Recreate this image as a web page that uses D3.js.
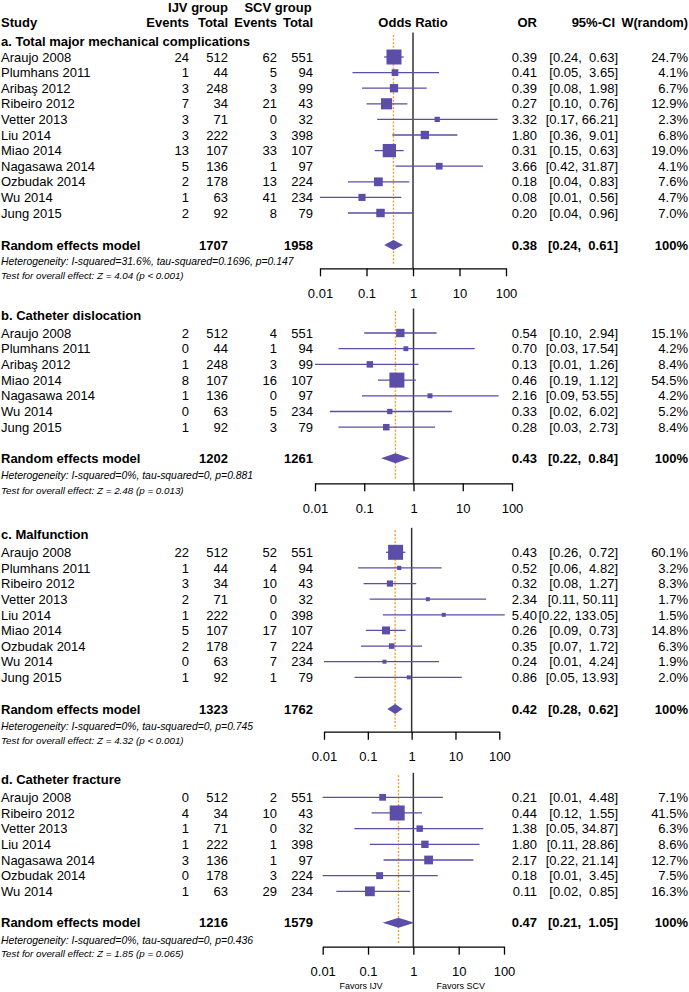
<!DOCTYPE html>
<html><head><meta charset="utf-8">
<script src="https://cdn.jsdelivr.net/npm/d3@7"></script>
<style>
body{margin:0;background:#fff}
svg text{font-family:"Liberation Sans",Arial,Helvetica,sans-serif;fill:#000;white-space:pre}
</style>
</head><body><svg id="chart" width="689" height="992"></svg>
<script>
// ---------------- DATA ----------------
const tickValues = [0.01, 0.1, 1, 10, 100];
const tickLabels = ["0.01", "0.1", "1", "10", "100"];

const panelTitles = [
  "a. Total major mechanical complications",
  "b. Catheter dislocation",
  "c. Malfunction",
  "d. Catheter fracture"
];

// [study, IJV events, IJV total, SCV events, SCV total, OR, lower, upper, weight %]
const studiesA = [
  ["Araujo 2008", 24, 512, 62, 551, 0.39, 0.24, 0.63, 24.7],
  ["Plumhans 2011", 1, 44, 5, 94, 0.41, 0.05, 3.65, 4.1],
  ["Aribaş 2012", 3, 248, 3, 99, 0.39, 0.08, 1.98, 6.7],
  ["Ribeiro 2012", 7, 34, 21, 43, 0.27, 0.10, 0.76, 12.9],
  ["Vetter 2013", 3, 71, 0, 32, 3.32, 0.17, 66.21, 2.3],
  ["Liu 2014", 3, 222, 3, 398, 1.80, 0.36, 9.01, 6.8],
  ["Miao 2014", 13, 107, 33, 107, 0.31, 0.15, 0.63, 19.0],
  ["Nagasawa 2014", 5, 136, 1, 97, 3.66, 0.42, 31.87, 4.1],
  ["Ozbudak 2014", 2, 178, 13, 224, 0.18, 0.04, 0.83, 7.6],
  ["Wu 2014", 1, 63, 41, 234, 0.08, 0.01, 0.56, 4.7],
  ["Jung 2015", 2, 92, 8, 79, 0.20, 0.04, 0.96, 7.0]
];
const studiesB = [
  ["Araujo 2008", 2, 512, 4, 551, 0.54, 0.10, 2.94, 15.1],
  ["Plumhans 2011", 0, 44, 1, 94, 0.70, 0.03, 17.54, 4.2],
  ["Aribaş 2012", 1, 248, 3, 99, 0.13, 0.01, 1.26, 8.4],
  ["Miao 2014", 8, 107, 16, 107, 0.46, 0.19, 1.12, 54.5],
  ["Nagasawa 2014", 1, 136, 0, 97, 2.16, 0.09, 53.55, 4.2],
  ["Wu 2014", 0, 63, 5, 234, 0.33, 0.02, 6.02, 5.2],
  ["Jung 2015", 1, 92, 3, 79, 0.28, 0.03, 2.73, 8.4]
];
const studiesC = [
  ["Araujo 2008", 22, 512, 52, 551, 0.43, 0.26, 0.72, 60.1],
  ["Plumhans 2011", 1, 44, 4, 94, 0.52, 0.06, 4.82, 3.2],
  ["Ribeiro 2012", 3, 34, 10, 43, 0.32, 0.08, 1.27, 8.3],
  ["Vetter 2013", 2, 71, 0, 32, 2.34, 0.11, 50.11, 1.7],
  ["Liu 2014", 1, 222, 0, 398, 5.40, 0.22, 133.05, 1.5],
  ["Miao 2014", 5, 107, 17, 107, 0.26, 0.09, 0.73, 14.8],
  ["Ozbudak 2014", 2, 178, 7, 224, 0.35, 0.07, 1.72, 6.3],
  ["Wu 2014", 0, 63, 7, 234, 0.24, 0.01, 4.24, 1.9],
  ["Jung 2015", 1, 92, 1, 79, 0.86, 0.05, 13.93, 2.0]
];
const studiesD = [
  ["Araujo 2008", 0, 512, 2, 551, 0.21, 0.01, 4.48, 7.1],
  ["Ribeiro 2012", 4, 34, 10, 43, 0.44, 0.12, 1.55, 41.5],
  ["Vetter 2013", 1, 71, 0, 32, 1.38, 0.05, 34.87, 6.3],
  ["Liu 2014", 1, 222, 1, 398, 1.80, 0.11, 28.86, 8.6],
  ["Nagasawa 2014", 3, 136, 1, 97, 2.17, 0.22, 21.14, 12.7],
  ["Ozbudak 2014", 0, 178, 3, 224, 0.18, 0.01, 3.45, 7.5],
  ["Wu 2014", 1, 63, 29, 234, 0.11, 0.02, 0.85, 16.3]
];

// Random effects model: [IJV total, SCV total, OR, lower, upper]
const summaryRows = [
  [1707, 1958, 0.38, 0.24, 0.61],
  [1202, 1261, 0.43, 0.22, 0.84],
  [1323, 1762, 0.42, 0.28, 0.62],
  [1216, 1579, 0.47, 0.21, 1.05]
];
const heterogeneityTexts = [
  "Heterogeneity: I-squared=31.6%, tau-squared=0.1696, p=0.147",
  "Heterogeneity: I-squared=0%, tau-squared=0, p=0.881",
  "Heterogeneity: I-squared=0%, tau-squared=0, p=0.745",
  "Heterogeneity: I-squared=0%, tau-squared=0, p=0.436"
];
const overallTestTexts = [
  "Test for overall effect: Z = 4.04 (p < 0.001)",
  "Test for overall effect: Z = 2.48 (p = 0.013)",
  "Test for overall effect: Z = 4.32 (p < 0.001)",
  "Test for overall effect: Z = 1.85 (p = 0.065)"
];
const favorLabels = ["Favors IJV", "Favors SCV"];

// ---------------- LAYOUT ----------------
const panelStudies = [studiesA, studiesB, studiesC, studiesD];
const layout = [
  {titleY: 41, row0: 57, step: 15.6, randomY: 245, hetY: 261.7, testY: 275, axisY: 268.3, x0: 320, x1: 506},
  {titleY: 315.5, row0: 333, step: 15.7, randomY: 458.3, hetY: 475.7, testY: 490, axisY: 483.3, x0: 315, x1: 512},
  {titleY: 534.3, row0: 552.3, step: 15.63, randomY: 709, hetY: 726.7, testY: 740, axisY: 731.7, x0: 324, x1: 499.3},
  {titleY: 779, row0: 797.3, step: 15.67, randomY: 922.7, hetY: 940, testY: 953, axisY: 946.7, x0: 322.7, x1: 504}
];
const col = {study: 1, eI: 189, nI: 228, eS: 277, nS: 313, or: 537, ci: 618, w: 688};
const PURPLE = "#5c4da9";
const ORANGE = "#f2a02a";
const FS = 13;

const svg = d3.select("#chart");
const f2 = d => d.toFixed(2);
const ciText = (lo, hi) => "[" + f2(lo) + "," + (hi < 10 ? "  " : " ") + f2(hi) + "]";

function txt(g, x, y, s, opts = {}) {
  return g.append("text")
    .attr("x", x).attr("y", y).attr("dy", "0.36em")
    .attr("xml:space", "preserve")
    .attr("text-anchor", opts.anchor || "start")
    .attr("font-size", opts.size || FS)
    .attr("font-weight", opts.bold ? "bold" : "normal")
    .attr("font-style", opts.italic ? "italic" : "normal")
    .text(s);
}

// header
const hdr = svg.append("g");
txt(hdr, 198, 7, "IJV group", {anchor: "middle", bold: true});
txt(hdr, 278, 7, "SCV group", {anchor: "middle", bold: true});
txt(hdr, col.study, 22, "Study", {bold: true});
txt(hdr, col.eI, 22, "Events", {anchor: "end", bold: true});
txt(hdr, col.nI, 22, "Total", {anchor: "end", bold: true});
txt(hdr, col.eS, 22, "Events", {anchor: "end", bold: true});
txt(hdr, col.nS, 22, "Total", {anchor: "end", bold: true});
txt(hdr, 413, 22, "Odds Ratio", {anchor: "middle", bold: true});
txt(hdr, col.or, 22, "OR", {anchor: "end", bold: true});
txt(hdr, 615, 22, "95%-CI", {anchor: "end", bold: true});
txt(hdr, col.w, 22, "W(random)", {anchor: "end", bold: true, size: 12.6});

panelStudies.forEach((rows, p) => {
  const L = layout[p];
  const g = svg.append("g");
  const x = d3.scaleLog().domain([0.01, 100]).range([L.x0, L.x1]);
  const y = d3.scaleLinear().domain([0, 1]).range([L.row0, L.row0 + L.step]);
  const maxW = d3.max(rows, r => r[8]);
  const side = d3.scaleSqrt().domain([0, maxW]).range([1, 15]);
  const sm = summaryRows[p];

  txt(g, col.study, L.titleY, panelTitles[p], {bold: true});

  // reference line at 1
  g.append("line").attr("x1", x(1)).attr("x2", x(1))
    .attr("y1", L.row0 - 24.5).attr("y2", L.axisY)
    .attr("stroke", "#333").attr("stroke-width", 1.5);

  // summary dotted line
  g.append("line").attr("x1", x(sm[2])).attr("x2", x(sm[2]))
    .attr("y1", L.row0 - 22).attr("y2", L.axisY - 3)
    .attr("stroke", ORANGE).attr("stroke-width", 1.4)
    .attr("stroke-dasharray", "2,1.6");

  rows.forEach((r, i) => {
    const yy = y(i);
    txt(g, col.study, yy, r[0]);
    txt(g, col.eI, yy, String(r[1]), {anchor: "end"});
    txt(g, col.nI, yy, String(r[2]), {anchor: "end"});
    txt(g, col.eS, yy, String(r[3]), {anchor: "end"});
    txt(g, col.nS, yy, String(r[4]), {anchor: "end"});
    txt(g, col.or, yy, f2(r[5]), {anchor: "end"});
    txt(g, col.ci, yy, ciText(r[6], r[7]), {anchor: "end"});
    txt(g, col.w, yy, r[8].toFixed(1) + "%", {anchor: "end"});

    g.append("line").attr("x1", x(r[6])).attr("x2", x(r[7]))
      .attr("y1", yy).attr("y2", yy)
      .attr("stroke", PURPLE).attr("stroke-width", 1.3);
    const s = Math.max(4, side(r[8]));
    g.append("rect").attr("x", x(r[5]) - s / 2).attr("y", yy - s / 2)
      .attr("width", s).attr("height", s).attr("fill", PURPLE);
  });

  // random effects row
  const ry = L.randomY;
  txt(g, col.study, ry, "Random effects model", {bold: true});
  txt(g, col.nI, ry, String(sm[0]), {anchor: "end", bold: true});
  txt(g, col.nS, ry, String(sm[1]), {anchor: "end", bold: true});
  txt(g, col.or, ry, f2(sm[2]), {anchor: "end", bold: true});
  txt(g, col.ci, ry, ciText(sm[3], sm[4]), {anchor: "end", bold: true});
  txt(g, col.w, ry, "100%", {anchor: "end", bold: true});
  g.append("path")
    .attr("d", d3.line()([[x(sm[3]), ry], [x(sm[2]), ry - 5], [x(sm[4]), ry], [x(sm[2]), ry + 5]]) + "Z")
    .attr("fill", PURPLE);

  txt(g, col.study, L.hetY, heterogeneityTexts[p], {italic: true, size: 10.4});
  txt(g, col.study, L.testY, overallTestTexts[p], {italic: true, size: 9.8});

  // axis
  const ax = g.append("g").attr("transform", `translate(0,${L.axisY})`)
    .call(d3.axisBottom(x).tickValues(tickValues)
      .tickFormat((d, i) => tickLabels[i]).tickSize(8).tickSizeOuter(0));
  ax.select(".domain").attr("stroke", "#000").attr("stroke-width", 1.3);
  ax.selectAll(".tick line").attr("stroke", "#000").attr("stroke-width", 1.3);
  ax.selectAll(".tick text").attr("y", 25).attr("dy", "0.36em")
    .attr("font-size", FS).attr("fill", "#000")
    .attr("font-family", "'Liberation Sans',Arial,Helvetica,sans-serif");

  if (p === 3) {
    txt(g, x(0.1) - 7, 985.5, favorLabels[0], {anchor: "middle", size: 9});
    txt(g, x(10) + 2, 985.5, favorLabels[1], {anchor: "middle", size: 9});
  }
});
</script>
</body></html>
